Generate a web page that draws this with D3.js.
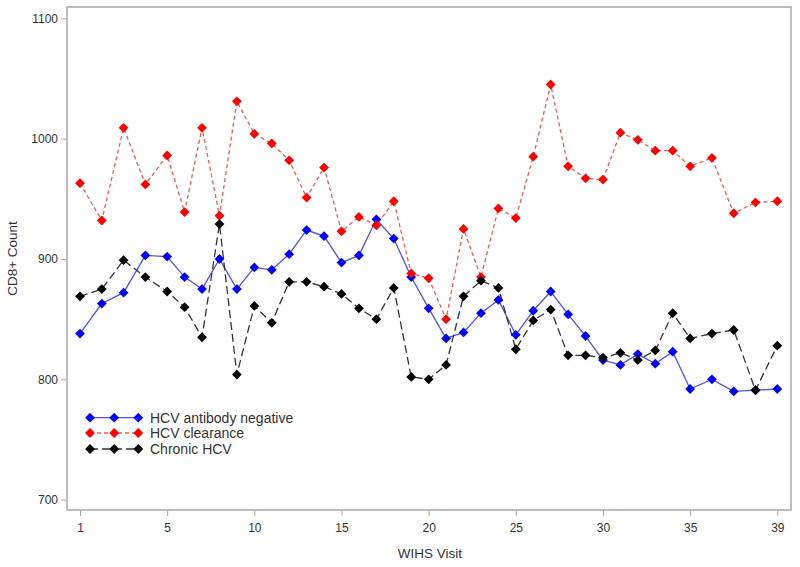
<!DOCTYPE html>
<html>
<head>
<meta charset="utf-8">
<script src="https://cdn.jsdelivr.net/npm/d3@7"></script>
<style>
  html, body { margin: 0; padding: 0; background: #fff; }
  svg { display: block; font-family: "Liberation Sans", Arial, sans-serif; }
</style>
</head>
<body>
<svg id="chart" width="800" height="567"></svg>
<script>
const visits = d3.range(1, 40);
const xTicks = [1, 5, 10, 15, 20, 25, 30, 35, 39];
const yTicks = [700, 800, 900, 1000, 1100];

const antibodyNegative = [838, 863, 872, 903, 902, 885, 875, 900, 875, 893,
  891, 904, 924, 919, 897, 903, 933, 917, 885, 859,
  834, 839, 855, 866, 837, 857, 873, 854, 836, 816,
  812, 821, 813, 823, 792, 800, 790, 791, 792];
const clearance = [963, 932, 1009, 962, 986, 939, 1009, 936, 1031, 1004,
  996, 982, 951, 976, 923, 935, 928, 948, 888, 884,
  850, 925, 885, 942, 934, 985, 1045, 977, 967, 966,
  1005, 999, 990, 990, 977, 984, 938, 947, 948];
const chronic = [869, 875, 899, 885, 873, 860, 835, 929, 804, 861,
  847, 881, 881, 877, 871, 859, 850, 876, 802, 800,
  812, 869, 882, 876, 825, 849, 858, 820, 820, 818,
  822, 816, 824, 855, 834, 838, 841, 791, 828];

const seriesNames = ["HCV antibody negative", "HCV clearance", "Chronic HCV"];
const seriesValues = [antibodyNegative, clearance, chronic];
const markerColors = ["#0000ff", "#ff0000", "#000000"];
const lineColors = ["#4f4ff5", "#f05a5a", "#333333"];
const lineDash = [null, "4,3", "8,4"];

const svg = d3.select("#chart");
const pLeft = 67, pRight = 791, pTop = 7, pBottom = 510;

// piecewise scale: tick values evenly spaced as in the original axis
const xStart = 80, xEnd = 777.3;
const x = d3.scaleLinear()
  .domain(xTicks)
  .range(xTicks.map((d, i) => xStart + i * (xEnd - xStart) / (xTicks.length - 1)));
const y = d3.scaleLinear().domain([700, 1100]).range([499.7, 18.3]);

const frameColor = "#a8a8a8";
const textColor = "#333";

// frame
svg.append("rect")
  .attr("x", pLeft).attr("y", pTop)
  .attr("width", pRight - pLeft).attr("height", pBottom - pTop)
  .attr("fill", "none").attr("stroke", frameColor).attr("stroke-width", 1.5);

// y axis
const yAxis = svg.append("g").attr("transform", `translate(${pLeft},0)`)
  .call(d3.axisLeft(y).tickValues(yTicks).tickSize(6).tickPadding(3).tickFormat(d3.format("d")));
yAxis.select(".domain").remove();
yAxis.selectAll("line").attr("stroke", frameColor);
yAxis.selectAll("text").attr("fill", textColor).style("font-size", "12px")
  .style("font-family", "'Liberation Sans', Arial, sans-serif");

// x axis
const xAxis = svg.append("g").attr("transform", `translate(0,${pBottom})`)
  .call(d3.axisBottom(x).tickValues(xTicks).tickSize(6).tickPadding(7).tickFormat(d3.format("d")));
xAxis.select(".domain").remove();
xAxis.selectAll("line").attr("stroke", frameColor);
xAxis.selectAll("text").attr("fill", textColor).style("font-size", "12px")
  .style("font-family", "'Liberation Sans', Arial, sans-serif");

// axis titles
svg.append("text")
  .attr("transform", `translate(17,${(pTop + pBottom) / 2}) rotate(-90)`)
  .attr("text-anchor", "middle")
  .attr("fill", textColor).style("font-size", "13.5px")
  .text("CD8+ Count");
svg.append("text")
  .attr("x", 430).attr("y", 558)
  .attr("text-anchor", "middle")
  .attr("fill", textColor).style("font-size", "13.5px")
  .text("WIHS Visit");

const diamond = r => `M0,${-r}L${r},0L0,${r}L${-r},0Z`;

const line = d3.line().x((d, i) => x(visits[i])).y(d => y(d));

seriesValues.forEach((vals, si) => {
  svg.append("path")
    .datum(vals)
    .attr("d", line)
    .attr("fill", "none")
    .attr("stroke", lineColors[si])
    .attr("stroke-width", 1.3)
    .attr("stroke-dasharray", lineDash[si]);
});
seriesValues.forEach((vals, si) => {
  svg.append("g").selectAll("path")
    .data(vals)
    .join("path")
    .attr("transform", (d, i) => `translate(${x(visits[i])},${y(d)})`)
    .attr("d", diamond(4.9))
    .attr("fill", markerColors[si]);
});

// legend
const legend = svg.append("g");
const legY = [417.7, 433, 449];
const legX = [90, 114.2, 138.3];
seriesNames.forEach((name, si) => {
  const g = legend.append("g").attr("transform", `translate(0,${legY[si]})`);
  g.append("line")
    .attr("x1", legX[0]).attr("x2", legX[2])
    .attr("stroke", lineColors[si]).attr("stroke-width", 1.3)
    .attr("stroke-dasharray", lineDash[si]);
  g.selectAll("path").data(legX).join("path")
    .attr("transform", d => `translate(${d},0)`)
    .attr("d", diamond(4.9))
    .attr("fill", markerColors[si]);
  g.append("text")
    .attr("x", 150).attr("y", 0).attr("dy", "0.35em")
    .attr("fill", textColor).style("font-size", "14px")
    .text(name);
});
</script>
</body>
</html>
